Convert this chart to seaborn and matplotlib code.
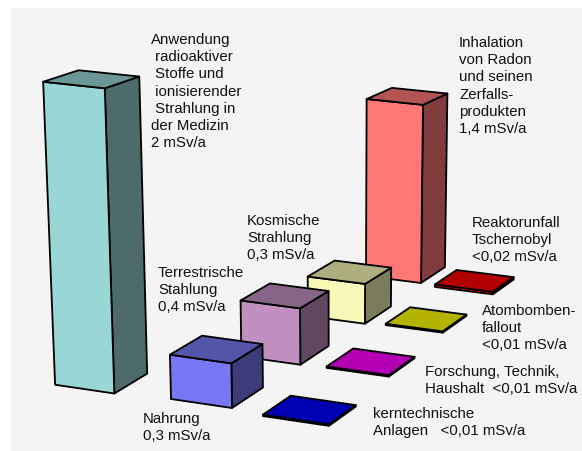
import numpy as np
import seaborn as sns
import matplotlib
matplotlib.use("Agg")
import matplotlib.pyplot as plt
from matplotlib.patches import Polygon

# Strahlenexposition, values in mSv/a
categories = ["Medizin", "Radon", "Kosmisch", "Terrestrisch", "Nahrung",
              "Tschernobyl", "Fallout", "Forschung", "Kerntechnik"]
values = [2.0, 1.4, 0.3, 0.4, 0.3, 0.02, 0.01, 0.01, 0.01]
labels = [
    ["Anwendung", " radioaktiver", " Stoffe und", " ionisierender", " Strahlung in", "der Medizin", "2 mSv/a"],
    ["Inhalation", "von Radon", "und seinen", "Zerfalls-", "produkten", "1,4 mSv/a"],
    ["Kosmische", "Strahlung", "0,3 mSv/a"],
    ["Terrestrische", "Stahlung", "0,4 mSv/a"],
    ["Nahrung", "0,3 mSv/a"],
    ["Reaktorunfall", "Tschernobyl", "<0,02 mSv/a"],
    ["Atombomben-", "fallout", "<0,01 mSv/a"],
    ["Forschung, Technik,", "Haushalt  <0,01 mSv/a"],
    ["kerntechnische", "Anlagen   <0,01 mSv/a"],
]
front_colors = ["#99d6d6", "#ff7878", "#f8f8b8", "#c090c0", "#7878f5",
                "#ff0000", "#ffff00", "#ff00ff", "#0000ff"]

# floor slots (across, depth) and where each label starts
slot_u = [-1.88, 0.0, 0.08, 0.04, 0.0, 1.3, 1.41, 1.47, 1.57]
slot_v = [-0.05, 3, 1.95, 0.96, 0, 2.95, 1.98, 0.97, -0.06]
bar_w = [1.0, 1.0, 1.0, 1.0, 1.0, 1.03, 0.98, 1.03, 1.05]
bar_d = [0.44, 0.44, 0.44, 0.44, 0.44, 0.40, 0.42, 0.42, 0.40]
label_pos = [(151, 40), (459, 43), (247, 221), (158, 273), (143, 419),
             (472, 223), (482, 311), (425, 372), (373, 414)]

sns.set_theme(style="white")
plt.rcParams["font.family"] = ["Liberation Sans", "DejaVu Sans"]


def floor_homography(src, dst):
    rows, rhs = [], []
    for (u, v), (x, y) in zip(src, dst):
        rows.append([u, v, 1, 0, 0, 0, -u * x, -v * x])
        rows.append([0, 0, 0, u, v, 1, -u * y, -v * y])
        rhs += [x, y]
    return np.append(np.linalg.solve(np.array(rows, float), np.array(rhs, float)), 1).reshape(3, 3)


H = floor_homography([(0, 0), (1, 0), (0, 3), (1, 3)],
                     [(171, 400), (232, 409), (366, 277), (421, 284)])
# vanishing point of the verticals, lies far below the picture
VP = np.array([340.0, 7600.0, 1.0])
K = -0.0204
FALLOFF = 0.02


def project(u, v, z=0.0):
    p = H @ np.array([u, v, 1.0]) + K * z * (1 - FALLOFF * v) * VP
    return p[0] / p[2], p[1] / p[2]


def shade(color, f):
    r, g, b = matplotlib.colors.to_rgb(color)
    return (r * f, g * f, b * f)


def draw_bar(ax, u, v, w, d, z, color):
    a, b = project(u, v), project(u + w, v)
    c = project(u + w, v + d)
    a2, b2 = project(u, v, z), project(u + w, v, z)
    c2, d2 = project(u + w, v + d, z), project(u, v + d, z)
    style = dict(edgecolor="black", linewidth=1.3, joinstyle="round")
    ax.add_patch(Polygon([b, c, c2, b2], facecolor=shade(color, 0.5), **style))
    ax.add_patch(Polygon([a, b, b2, a2], facecolor=color, **style))
    ax.add_patch(Polygon([a2, b2, c2, d2], facecolor=shade(color, 0.7), **style))


fig = plt.figure(figsize=(5.82, 4.52), dpi=100)
ax = fig.add_axes([11 / 582, 0, 571 / 582, 443 / 452])
ax.set_facecolor("#f4f4f4")
ax.set_xlim(11, 582)
ax.set_ylim(452, 9)
ax.set_xticks([])
ax.set_yticks([])
sns.despine(ax=ax, left=True, bottom=True)

order = sorted(range(len(values)), key=lambda i: -slot_v[i])
for i in order:
    draw_bar(ax, slot_u[i], slot_v[i], bar_w[i], bar_d[i], values[i], front_colors[i])

for lines, (x, y) in zip(labels, label_pos):
    for n, line in enumerate(lines):
        ax.text(x, y + n * 17.2, line, fontsize=10.8, color="#111111", va="center", ha="left")

fig.savefig("out.png", dpi=100)
